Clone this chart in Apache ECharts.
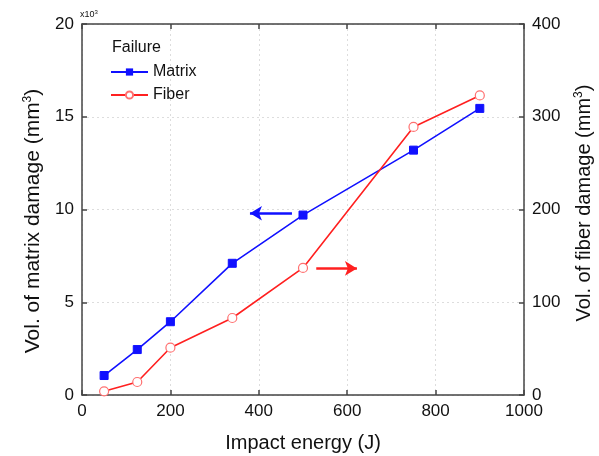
<!DOCTYPE html>
<html><head><meta charset="utf-8">
<script src="https://cdn.jsdelivr.net/npm/echarts@6/dist/echarts.min.js"></script>
<style>html,body{margin:0;padding:0;background:#fff}#c{width:599px;height:456px}</style>
</head><body><div id="c"></div>
<script>
const energy = [50, 125, 200, 340, 500, 750, 900];
const matrixVol = [1.05, 2.45, 3.95, 7.1, 9.7, 13.2, 15.45]; // x10^3 mm^3
const fiberVol = [4, 14, 51, 83, 137, 289, 323]; // mm^3
const xTicks = [0, 200, 400, 600, 800, 1000];
const leftTicks = [0, 5, 10, 15, 20];
const rightTicks = [0, 100, 200, 300, 400];

const font = 'Liberation Sans, Arial, sans-serif';
const axisColor = '#444';
const txt = '#111';
const chart = echarts.init(document.getElementById('c'));
const commonAxis = {
  axisLine: {show: true, onZero: false, lineStyle: {color: axisColor, width: 1.5}},
  axisTick: {show: true, inside: true, length: 5, lineStyle: {color: axisColor, width: 1.5}},
  axisLabel: {color: txt, fontSize: 17, fontFamily: font}
};
const sup = {s: {fontSize: 12, fontFamily: font, fill: txt, padding: [0, 0, 10, 0]}};
chart.setOption({
  animation: false,
  backgroundColor: '#fff',
  grid: {left: 82, right: 75, top: 24, bottom: 61, outerBoundsMode: 'none', containLabel: false},
  legend: {
    left: 110, top: 64, padding: 0, orient: 'vertical', itemWidth: 37, itemHeight: 9, itemGap: 7,
    textStyle: {fontSize: 16, fontFamily: font, color: txt},
    data: ['Matrix', 'Fiber']
  },
  graphic: [
    {type: 'text', left: 112, top: 40, style: {text: 'Failure', fontSize: 16, fontFamily: font, fill: txt}},
    {type: 'text', left: 80, top: 9, style: {text: 'x10{s|3}', rich: {s: {fontSize: 6, padding: [0,0,5,0]}}, fontSize: 9, fontFamily: font, fill: txt}},
    {type: 'text', x: 33, y: 221, rotation: Math.PI / 2,
      style: {text: 'Vol. of matrix damage (mm{s|3})', rich: sup, fontSize: 21, fontFamily: font, fill: txt, align: 'center', verticalAlign: 'middle'}},
    {type: 'text', x: 584, y: 203, rotation: Math.PI / 2,
      style: {text: 'Vol. of fiber damage (mm{s|3})', rich: sup, fontSize: 20, fontFamily: font, fill: txt, align: 'center', verticalAlign: 'middle'}}
  ],
  xAxis: [
    Object.assign({}, commonAxis, {
      type: 'value', min: 0, max: 1000, interval: 200, position: 'bottom',
      name: 'Impact energy (J)', nameLocation: 'middle', nameGap: 38,
      nameTextStyle: {color: txt, fontSize: 20, fontFamily: font},
      splitLine: {show: true, lineStyle: {color: '#ddd', type: [2, 3]}},
      axisLabel: Object.assign({}, commonAxis.axisLabel, {margin: 8, formatter: v => xTicks.includes(v) ? String(v) : ''})
    }),
    Object.assign({}, commonAxis, {
      type: 'value', min: 0, max: 1000, interval: 200, position: 'top',
      axisLabel: {show: false}, splitLine: {show: false}
    })
  ],
  yAxis: [
    Object.assign({}, commonAxis, {
      type: 'value', min: 0, max: 20, interval: 5, position: 'left',
      splitLine: {show: true, lineStyle: {color: '#ddd', type: [2, 3]}},
      axisLabel: Object.assign({}, commonAxis.axisLabel, {margin: 8, formatter: v => leftTicks.includes(v) ? String(v) : ''})
    }),
    Object.assign({}, commonAxis, {
      type: 'value', min: 0, max: 400, interval: 100, position: 'right',
      splitLine: {show: false},
      axisLabel: Object.assign({}, commonAxis.axisLabel, {margin: 8, formatter: v => rightTicks.includes(v) ? String(v) : ''})
    })
  ],
  series: [
    {
      name: 'Matrix', type: 'line', yAxisIndex: 0,
      data: energy.map((e, i) => [e, matrixVol[i]]),
      symbol: 'rect', symbolSize: 8,
      lineStyle: {color: '#1010ff', width: 1.6},
      itemStyle: {color: '#1010ff', borderColor: '#1010ff'},
      markLine: {
        silent: true, symbolSize: [11, 12], label: {show: false},
        lineStyle: {color: '#1010ff', width: 2.5, type: 'solid'},
        data: [[{coord: [475, 9.8], symbol: 'none'}, {coord: [380, 9.8], symbol: 'arrow'}]]
      }
    },
    {
      name: 'Fiber', type: 'line', yAxisIndex: 1,
      data: energy.map((e, i) => [e, fiberVol[i]]),
      symbol: 'circle', symbolSize: 9,
      lineStyle: {color: '#ff2020', width: 1.6},
      itemStyle: {color: '#fff', borderColor: '#ff7070', borderWidth: 1.2},
      markLine: {
        silent: true, symbolSize: [11, 12], label: {show: false},
        lineStyle: {color: '#ff2020', width: 2.5, type: 'solid'},
        data: [[{coord: [530, 136.5], symbol: 'none'}, {coord: [622, 136.5], symbol: 'arrow'}]]
      }
    }
  ]
});
</script></body></html>
